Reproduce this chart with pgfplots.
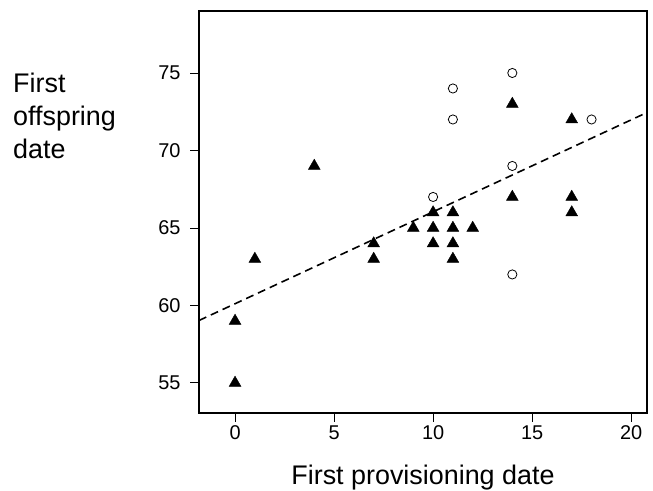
\documentclass[border=0pt]{standalone}
\usepackage{fontspec}
\setmainfont{Liberation Sans}
\usepackage{pgfplots}
\pgfplotsset{compat=1.18}
\usetikzlibrary{calc}

\newcommand{\tickfont}{\fontsize{20}{24}\selectfont}
\newcommand{\labfont}{\fontsize{27}{33}\selectfont}

\begin{document}
\begin{tikzpicture}
\begin{axis}[
    scale only axis,
    width=448bp, height=402bp,
    xmin=-1.82, xmax=20.8,
    ymin=53.06, ymax=79.0,
    xtick={0,5,10,15,20},
    ytick={55,60,65,70,75},
    tick align=outside,
    xtick pos=bottom, ytick pos=left,
    major tick length=8.5bp,
    axis line style={line width=1.1pt},
    every tick/.style={black, line width=0.9pt},
    xticklabel={\tickfont\pgfmathprintnumber[assume math mode=true]{\tick}},
    yticklabel={\tickfont\pgfmathprintnumber[assume math mode=true]{\tick}},
    xticklabel style={yshift=-0.5bp},
    yticklabel style={xshift=-6.5bp},
    xlabel={First provisioning date},
    xlabel style={font=\labfont, at={(rel axis cs:0.5,0)}, anchor=base, yshift=-72bp, inner sep=0pt},
]
% fitted regression line
\addplot[black, line width=1.6pt, dash pattern=on 8bp off 5bp] coordinates {(-1.82,59.03) (20.8,72.45)};

% filled triangles
\addplot[only marks, mark=triangle*, mark size=6.8bp, mark options={fill=black, draw=black}] coordinates {
    (0,55) (0,59) (1,63) (4,69) (7,64) (7,63) (9,65)
    (10,66) (10,65) (10,64) (11,66) (11,65) (11,64) (11,63)
    (12,65) (14,73) (14,67) (17,72) (17,67) (17,66)
};

% open circles
\addplot[only marks, mark=o, mark size=4.6bp, mark options={draw=black, line width=0.8pt}] coordinates {
    (10,67) (11,74) (11,72) (14,75) (14,69) (14,62) (18,72)
};
\end{axis}
\node[anchor=north west, align=left, inner sep=0pt, font=\labfont]
    at ($(current axis.north west)+(-186bp,-62bp)$) {First\\offspring\\date};
\path ($(current axis.south west)+(-199bp,-76bp)$) rectangle ($(current axis.north east)+(6bp,11bp)$);
\end{tikzpicture}
\end{document}
